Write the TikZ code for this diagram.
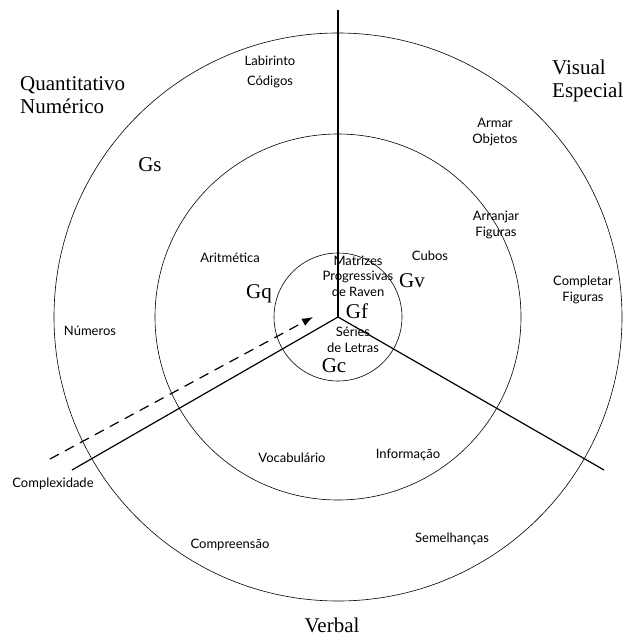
\documentclass[tikz,border=0pt]{standalone}
\usepackage{fontspec}
\usetikzlibrary{arrows.meta}
\setmainfont{Liberation Serif}
\newfontfamily\labelfont{Lato}

\tikzset{
  test/.style={inner sep=0pt, align=center, font=\labelfont\fontsize{13}{15.5}\selectfont},
  factor/.style={inner sep=0pt, anchor=base, font=\fontsize{21}{23}\selectfont},
  area/.style={inner sep=0pt, align=left, anchor=west, font=\fontsize{21}{23}\selectfont}
}

\begin{document}
\begin{tikzpicture}[x=1pt, y=-1pt, >={Latex[length=11pt, width=8pt]}]
  \useasboundingbox (0,0) rectangle (626,636);

  \coordinate (o) at (338,317);
  \coordinate (top) at (338,10);
  \coordinate (left) at (72,470);
  \coordinate (right) at (604,470);
  \coordinate (start) at (50,459);
  \coordinate (tip) at (313,317);

  % Rings
  \draw[line width=0.6pt] (o) circle (64);
  \draw[line width=0.6pt] (o) circle (183);
  \draw[line width=0.6pt] (o) circle (284);

  % Axes
  \draw[line width=1.2pt] (o) -- (top);
  \draw[line width=1.2pt] (o) -- (left);
  \draw[line width=1.2pt] (o) -- (right);
  \draw[->, line width=1.2pt, dash pattern=on 10pt off 7pt] (start) -- (tip);

  % Areas
  \node (quant) [area] at (20,95) {Quantitativo\\Numérico};
  \node (visual) [area] at (552,81) {Visual\\Especial};
  \node (verbal) [factor] at (332,632) {Verbal};

  % Factors
  \node (gs) [factor] at (150,172) {Gs};
  \node (gq) [factor] at (259,298) {Gq};
  \node (gv) [factor] at (412,287) {Gv};
  \node (gf) [factor] at (357,318) {Gf};
  \node (gc) [factor] at (334,372) {Gc};

  % Tests
  \node (codigos) [test] at (270,72) {Labirinto\\[4pt]Códigos};
  \node (armar) [test] at (495,132) {Armar\\Objetos};
  \node (arranjar) [test] at (496,225) {Arranjar\\Figuras};
  \node (completar) [test] at (583,290) {Completar\\Figuras};
  \node (raven) [test] at (358,276) {Matrizes\\Progressivas\\de Raven};
  \node (series) [test] at (353,340) {Séries\\de Letras};
  \node (cubos) [test, anchor=base] at (430,260) {Cubos};
  \node (aritm) [test, anchor=base] at (230,262) {Aritmética};
  \node (numeros) [test, anchor=base] at (90,335) {Números};
  \node (complex) [test, anchor=base] at (53,487) {Complexidade};
  \node (vocab) [test, anchor=base] at (292,462) {Vocabulário};
  \node (inform) [test, anchor=base] at (408,458) {Informação};
  \node (compr) [test, anchor=base] at (230,548) {Compreensão};
  \node (semel) [test, anchor=base] at (452,542) {Semelhanças};
\end{tikzpicture}
\end{document}
